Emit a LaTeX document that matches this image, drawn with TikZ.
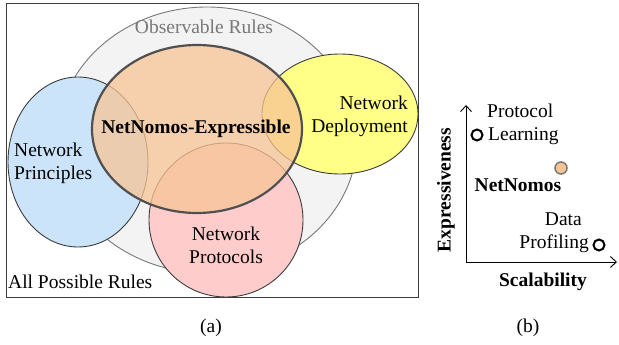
\documentclass[tikz,border=0pt]{standalone}
\usepackage{fontspec}
\setmainfont{Liberation Serif}
\usetikzlibrary{shapes.geometric,arrows.meta}
\definecolor{obsfill}{RGB}{243,243,243}
\definecolor{obsline}{RGB}{120,120,120}
\definecolor{bluefill}{RGB}{204,228,250}
\definecolor{pinkfill}{RGB}{255,204,204}
\definecolor{yelfill}{RGB}{255,255,136}
\definecolor{orfill}{RGB}{248,196,150}
\definecolor{edge}{RGB}{60,60,60}
\begin{document}
\begin{tikzpicture}[x=1pt,y=-1pt,
  lbl/.style={font=\fontsize{19.5}{23}\selectfont, inner sep=0pt, align=center},
  blbl/.style={lbl, font=\fontsize{19.5}{23}\selectfont\bfseries},
  setell/.style={ellipse, inner sep=0pt, draw=edge, line width=0.9pt},
  dot/.style={circle, inner sep=0pt, minimum size=11pt, line width=2pt, draw=black, fill=white},
  axis/.style={line width=0.9pt, -{Straight Barb[length=6pt,width=11pt]}}
]
\useasboundingbox (0,0) rectangle (619,345);
% panel (a)
\node[draw=edge, line width=1pt, minimum width=412pt, minimum height=294pt, inner sep=0pt] (frame) at (212,150.5) {};
\node[setell, draw=obsline, fill=obsfill, minimum width=300pt, minimum height=266pt] (obs) at (207,140) {};
\node[setell, fill=bluefill, minimum width=140pt, minimum height=170pt] (prin) at (78,162) {};
\node[setell, fill=pinkfill, minimum width=154pt, minimum height=154pt] (prot) at (226,220) {};
\node[setell, fill=yelfill, minimum width=156pt, minimum height=120pt] (depl) at (340,114) {};
\node[setell, fill=orfill, fill opacity=0.75, draw=edge!90, line width=2.2pt, minimum width=210pt, minimum height=168pt] (expr) at (197,129) {};
\node[lbl, text=obsline] (tobs) at (204,27) {Observable Rules};
\node[blbl] (texpr) at (196,129) {NetNomos-Expressible};
\node[lbl, align=left, anchor=west] (tprin) at (14,163) {Network\\Principles};
\node[lbl, align=right, anchor=east] (tdepl) at (408,116) {Network\\Deployment};
\node[lbl] (tprot) at (226,245) {Network\\Protocols};
\node[lbl, anchor=west] (tall) at (8,282) {All Possible Rules};
\node[lbl] (capa) at (211,328) {(a)};
% panel (b)
\coordinate (o) at (466,262);
\coordinate (ytop) at (466,105);
\coordinate (xend) at (617,262);
\draw[axis] (o) -- (ytop);
\draw[axis] (o) -- (xend);
\node[blbl, rotate=90] (tyax) at (446,190) {Expressiveness};
\node[blbl] (txax) at (543,282) {Scalability};
\node[dot] (pl) at (477,135) {};
\node[lbl, align=left, anchor=west] (tpl) at (487,124) {Protocol\\\hspace*{1pt}Learning};
\node[dot, fill=orfill, draw=obsline, line width=1.5pt, minimum size=12pt] (nn) at (561,168) {};
\node[blbl] (tnn) at (518,185) {NetNomos};
\node[dot] (dp) at (599,245) {};
\node[lbl, align=right, anchor=east] (tdp) at (589,233) {Data\hspace*{7pt}\\Profiling};
\node[lbl] (capb) at (528,328) {(b)};
\end{tikzpicture}
\end{document}
